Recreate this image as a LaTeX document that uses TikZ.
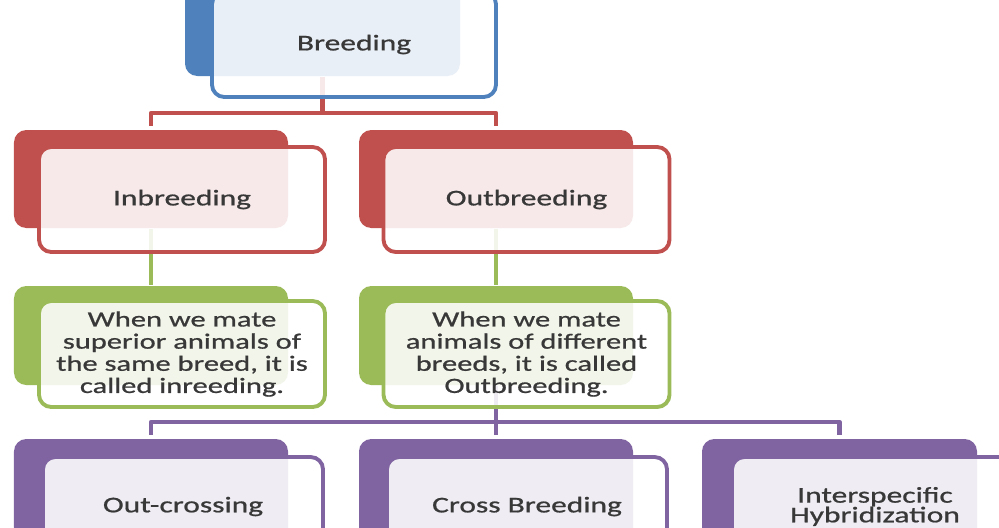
\documentclass[tikz,border=0pt]{standalone}
\usepackage{fontspec}
\setmainfont[FakeStretch=1.4,FakeBold=0.8]{Carlito}
\definecolor{sablue}{HTML}{4F81BD}
\definecolor{sared}{HTML}{C0504D}
\definecolor{sagreen}{HTML}{9BBB59}
\definecolor{sapurple}{HTML}{8064A2}
\definecolor{txtgray}{HTML}{383838}
\begin{document}
\begin{tikzpicture}[line join=round,
  back/.style={rounded corners=3.5pt,minimum width=2.74cm,minimum height=.98cm,inner sep=0pt},
  front/.style={draw,line width=1.1pt,rounded corners=3.5pt,fill=white,fill opacity=.88,text opacity=1,
    text=txtgray,minimum width=2.86cm,minimum height=1.05cm,align=center,inner sep=0pt,
    font=\fontsize{6.4}{5.6}\selectfont},
  desc/.style={font=\fontsize{6.2}{6.3}\selectfont,minimum height=1.06cm},
  link/.style={line width=1.3pt}]
\useasboundingbox (0,0) rectangle (9.99,5.27);
\clip (0,0) rectangle (9.99,5.27);

% coloured boxes behind
\node[back,fill=sablue,minimum width=2.75cm,minimum height=1.01cm] (breedB) at (3.225,5.015) {};
\node[back,fill=sared] (inbB) at (1.51,3.48) {};
\node[back,fill=sared] (outbB) at (4.96,3.48) {};
\node[back,fill=sagreen,minimum height=.99cm] (inbDescB) at (1.51,1.915) {};
\node[back,fill=sagreen,minimum height=.99cm] (outbDescB) at (4.96,1.915) {};
\node[back,fill=sapurple,minimum height=1.01cm] (ocB) at (1.51,.375) {};
\node[back,fill=sapurple,minimum height=1.01cm] (cbB) at (4.96,.375) {};
\node[back,fill=sapurple,minimum width=2.75cm,minimum height=1.01cm] (ihB) at (8.395,.375) {};

% connectors
\coordinate (j1) at (3.225,4.14);
\coordinate (j2) at (4.96,1.05);
\draw[link,sared](breedB.south)--(j1);
\draw[link,sared](j1)-|([yshift=1pt]inbB.north);
\draw[link,sared](j1)-|([yshift=1pt]outbB.north);
\draw[link,sagreen](inbB.south)--(inbDescB.north);
\draw[link,sagreen](outbB.south)--(outbDescB.north);
\draw[link,sapurple](outbDescB.south)--(j2);
\draw[link,sapurple](j2)-|([yshift=1pt]ocB.north);
\draw[link,sapurple](j2)--([yshift=1pt]cbB.north);
\draw[link,sapurple](j2)-|([yshift=1pt]ihB.north);

% white boxes in front
\node[front,draw=sablue,minimum width=2.84cm] (breed) at (3.54,4.825) {Breeding};
\node[front,draw=sared] (inb) at (1.82,3.275) {Inbreeding};
\node[front,draw=sared] (outb) at (5.265,3.275) {Outbreeding};
\node[front,desc,draw=sagreen] (inbDesc) at (1.82,1.73) {When we mate\\superior animals of\\the same breed, it is\\called inreeding.};
\node[front,desc,draw=sagreen] (outbDesc) at (5.265,1.73) {When we mate\\animals of different\\breeds, it is called\\Outbreeding.};
\node[front,draw=sapurple,minimum width=2.80cm,minimum height=.99cm] (oc) at (1.83,.205) {Out-crossing};
\node[front,draw=sapurple,minimum width=2.80cm,minimum height=.99cm] (cb) at (5.27,.205) {Cross Breeding};
\node[front,draw=sapurple,minimum height=.99cm] (ih) at (8.75,.205) {Interspecific\\Hybridization};
\end{tikzpicture}
\end{document}
